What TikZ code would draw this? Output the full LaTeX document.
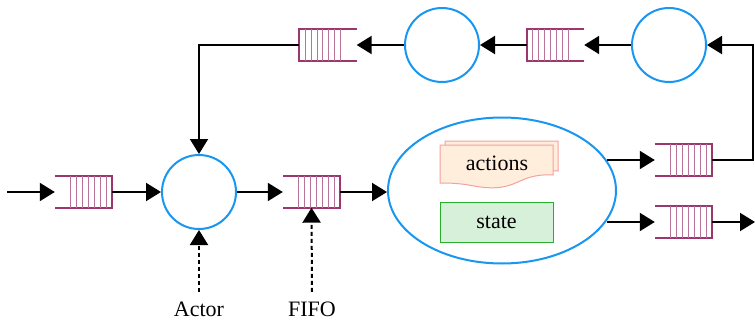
\documentclass[tikz,border=0pt]{standalone}
\usepackage{fontspec}
\setmainfont{Liberation Serif}
\usepackage{tikz}
\usetikzlibrary{arrows.meta,shapes,calc,positioning}
\definecolor{azul}{RGB}{24,150,240}
\definecolor{ciruela}{RGB}{155,55,110}
\definecolor{salmon}{RGB}{245,160,160}
\definecolor{crema}{RGB}{255,238,220}
\definecolor{verde}{RGB}{40,175,45}
\definecolor{verdeClaro}{RGB}{215,240,217}
\tikzstyle{flow}  =[-{Triangle[length=15pt 0,width=18pt 0]}, line width=2pt]
\tikzstyle{hint}  =[flow, dash pattern=on 4pt off 3pt]
\tikzstyle{actor} =[circle, draw=azul, line width=2pt,
                    minimum size=74pt, inner sep=0pt]
\tikzstyle{fifo}  =[rectangle, minimum width=57pt, minimum height=31pt,
                    inner sep=0pt]
\tikzstyle{fifoline}=[draw=ciruela, line width=2pt]
\tikzstyle{stripe}=[draw=ciruela!70, line width=1pt]
\tikzstyle{doc}   =[draw=salmon, fill=crema, line width=1pt]
\tikzstyle{label} =[font=\fontsize{22pt}{26pt}\selectfont]

\begin{document}
\begin{tikzpicture}[x=1pt,y=-1pt]
    \useasboundingbox (0,0) rectangle (755,321);

    \draw (199,192) node (a1) [actor] {};
    \draw (442,45) node (a2) [actor] {};
    \draw (669,45) node (a3) [actor] {};
    \draw (502,190.5) node (core) [ellipse, draw=azul, line width=2pt,
        minimum width=228pt, minimum height=146pt] {};

    \draw (83.5,192) node (f1) [fifo] {};
    \draw (311.5,192) node (f2) [fifo] {};
    \draw (683.5,160) node (f3) [fifo] {};
    \draw (683.5,222) node (f4) [fifo] {};
    \draw (555.5,45) node (f5) [fifo] {};
    \draw (328,45) node (f6) [fifo] {};

    \foreach \q in {f1,f2,f3,f4} {
        \draw [fifoline] (\q.north west) -- (\q.north east) -- (\q.south east) -- (\q.south west);
        \foreach \k in {1,...,7}
            \draw [stripe] ([xshift={-5.9pt*\k}]\q.north east) -- ([xshift={-5.9pt*\k}]\q.south east);
    }
    \foreach \q in {f5,f6} {
        \draw [fifoline] (\q.north east) -- (\q.north west) -- (\q.south west) -- (\q.south east);
        \foreach \k in {1,...,7}
            \draw [stripe] ([xshift={5.9pt*\k}]\q.north west) -- ([xshift={5.9pt*\k}]\q.south west);
    }

    \foreach \dx/\dy in {445/141,440/145}
        \draw [doc] (\dx,\dy) -- ++(113,0) -- ++(0,30)
            .. controls ++(-38,-2) and ++(45,8) .. ++(-79,11)
            .. controls ++(-15,-3) and ++(8,0) .. ++(-34,-3) -- cycle;
    \node (actions) [label] at (497,163) {actions};
    \node (state) [label, draw=verde, fill=verdeClaro, line width=1pt,
        minimum width=113pt, minimum height=40pt, inner sep=0pt] at (496.5,222) {state};

    \node (lblActor) [label, anchor=base] at (199,316) {Actor};
    \node (lblFifo) [label, anchor=base] at (312,316) {FIFO};

    \coordinate (in) at (7,192);
    \coordinate (out) at (755,222);
    \coordinate (ret) at (753,160);

    \draw [flow] (in) -- (f1.west);
    \foreach \i/\j in {f1/a1,a1/f2}
        \draw [flow] (\i.east) -- (\j.west);
    \draw [flow] (f2.east) -- (f2.east -| core.west);
    \foreach \i/\j in {a3/f5,f5/a2,a2/f6}
        \draw [flow] (\i.west) -- (\j.east);
    \draw [flow] (f3.west -| core.16) -- (f3.west);
    \draw [flow] (f4.west -| core.-16) -- (f4.west);
    \draw [flow] (f4.east) -- (out);
    \draw [flow] (f3.east) -- (ret) |- (a3.east);
    \draw [flow] (f6.west) -| (a1.north);

    \draw [hint] ([yshift=6pt]lblActor.north) -- (a1.south);
    \draw [hint] ([yshift=6pt]lblFifo.north) -- (f2.south);

\end{tikzpicture}
\end{document}
